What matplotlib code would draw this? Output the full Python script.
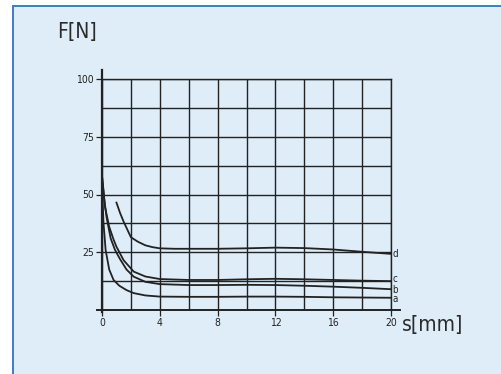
import matplotlib
matplotlib.use("Agg")
import matplotlib.pyplot as plt
from matplotlib.patches import Rectangle
from matplotlib.ticker import MultipleLocator

plt.rcParams['font.family'] = ['DejaVu Sans']

# curve data: spring force F[N] over travel s[mm]
s_a = [0, 0.1, 0.25, 0.5, 0.8, 1.2, 1.7, 2.2, 3, 4, 6, 8, 10, 12, 14, 16, 18, 20]
f_a = [55, 38, 26, 17.5, 13, 10.5, 8.6, 7.3, 6.3, 5.8, 5.7, 5.7, 5.8, 5.8, 5.7, 5.5, 5.4, 5.3]

s_b = [0, 0.15, 0.32, 0.6, 0.9, 1.25, 1.7, 2.2, 3, 4, 6, 8, 10, 12, 14, 16, 18, 20]
f_b = [58, 48, 40, 31, 26, 22, 17.5, 14.4, 12.2, 11.2, 10.8, 10.8, 10.9, 10.8, 10.5, 10.1, 9.6, 9.0]

s_c = [0, 0.1, 0.21, 0.5, 0.8, 1.0, 1.5, 2.2, 3, 4, 6, 8, 10, 12, 14, 16, 18, 20]
f_c = [58, 52, 44.6, 36, 30.5, 27.4, 21.5, 16.6, 14.5, 13.4, 13.0, 13.0, 13.3, 13.5, 13.3, 13.0, 12.7, 12.5]

s_d = [1.0, 1.25, 1.5, 2.0, 2.5, 3.0, 3.5, 4, 5, 6, 8, 10, 12, 14, 16, 18, 20]
f_d = [46.5, 42, 38.2, 31.5, 29.5, 28, 27.2, 26.7, 26.5, 26.5, 26.5, 26.7, 27, 26.8, 26.2, 25.2, 24.3]

curves = [('a', s_a, f_a), ('b', s_b, f_b), ('c', s_c, f_c), ('d', s_d, f_d)]
label_shift = {'a': -1.0, 'b': -0.5, 'c': 1.5, 'd': 0}

x_ticks = [0, 4, 8, 12, 16, 20]
y_ticks = [25, 50, 75, 100]

ink = '#222222'

fig = plt.figure(figsize=(5.01, 3.74), dpi=100)
fig.patch.set_facecolor('white')
# light blue panel with blue border (left/top edge visible)
fig.patches.append(Rectangle((13 / 501, -0.1), 1.2, 368 / 374 + 0.1,
                             transform=fig.transFigure, facecolor='#deedf8',
                             edgecolor='#3d7cc4', linewidth=1.4, zorder=-5))

ax = fig.add_axes([102 / 501, 64 / 374, 289 / 501, 231 / 374])
ax.set_zorder(2)
ax.set_facecolor('none')
ax.set_xlim(0, 20)
ax.set_ylim(0, 100)

ax.set_xticks(x_ticks)
ax.set_yticks(y_ticks)
ax.xaxis.set_minor_locator(MultipleLocator(2))
ax.yaxis.set_minor_locator(MultipleLocator(12.5))
ax.grid(True, which='both', color=ink, linewidth=1.0)
ax.set_axisbelow(True)

for side in ['left', 'bottom']:
    ax.spines[side].set_visible(False)
for side in ['top', 'right']:
    ax.spines[side].set_color(ink)
    ax.spines[side].set_linewidth(1.0)

ax.tick_params(which='major', length=4, width=0.9, color=ink, labelsize=7.5,
               labelcolor=ink, pad=2)
ax.tick_params(which='minor', length=0)
for lab in ax.get_xticklabels() + ax.get_yticklabels():
    lab.set_fontstretch('condensed')

# axis lines run a little past the grid
ax.plot([-0.37, 20.6], [0, 0], color=ink, lw=1.4, clip_on=False, zorder=3)
ax.plot([0, 0], [-1, 104], color=ink, lw=1.6, clip_on=False, zorder=3)

for name, s, f in curves:
    ax.plot(s, f, color=ink, lw=1.3, zorder=4, clip_on=False)
    ax.annotate(name, (s[-1], f[-1]), xytext=(1.2, label_shift[name]),
                textcoords='offset points', fontsize=7, color=ink,
                va='center', ha='left', fontstretch='condensed')

fig.text(57 / 501, 1 - 32 / 374, 'F[N]', fontsize=15, color='#2a2a2a',
         va='center', ha='left', fontstretch='condensed')
fig.text(402 / 501, 1 - 325 / 374, 's[mm]', fontsize=15, color='#2a2a2a',
         va='center', ha='left', fontstretch='condensed')

fig.savefig('out.png', dpi=100)
